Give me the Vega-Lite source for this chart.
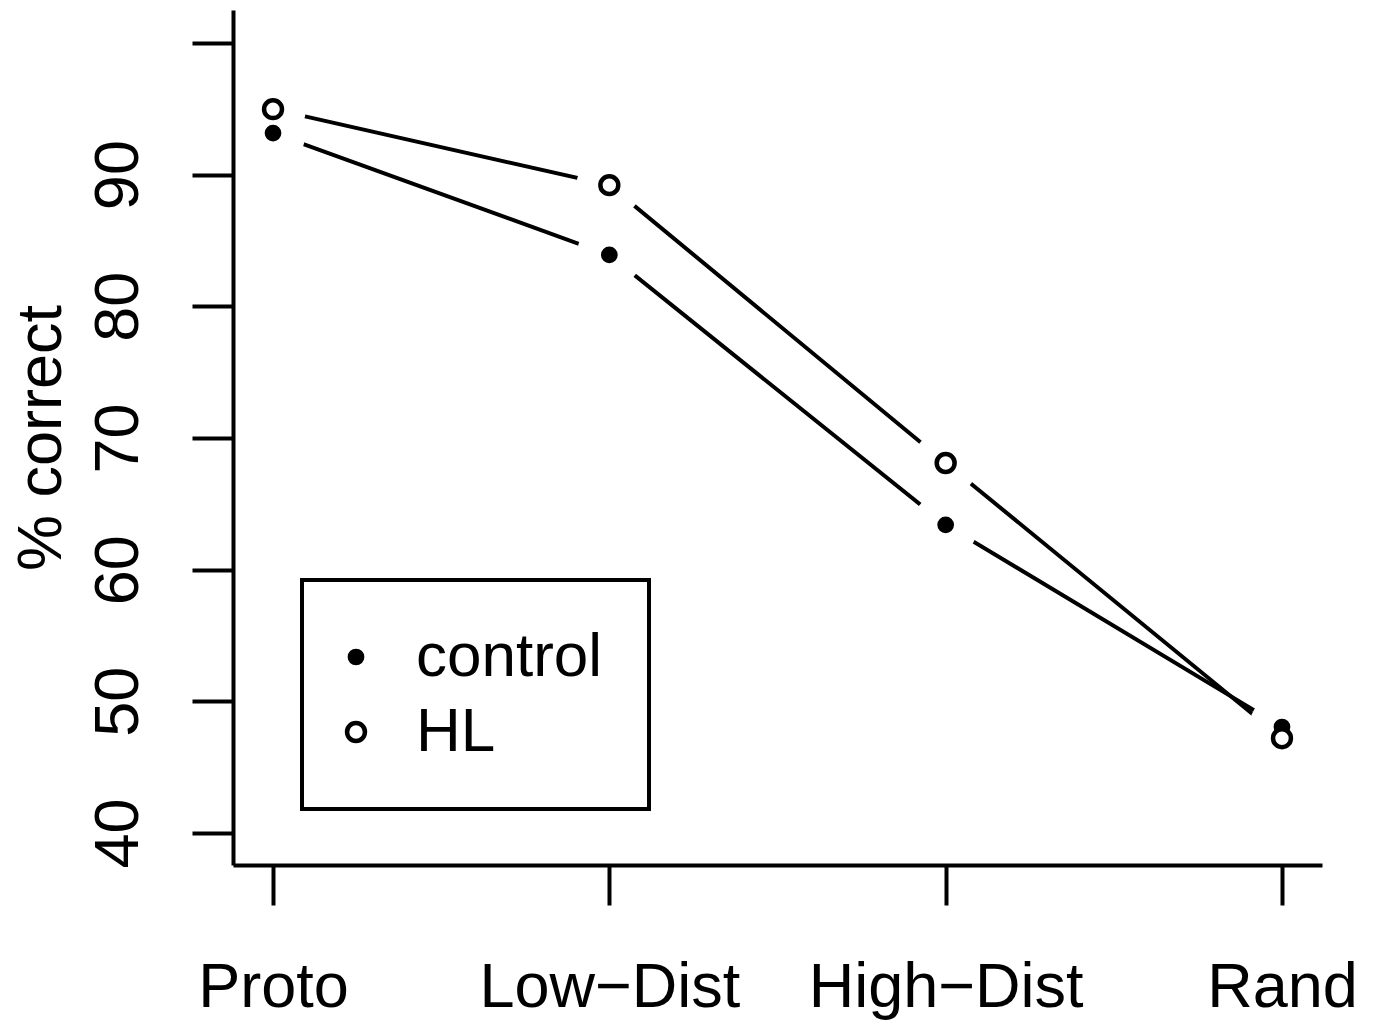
{
  "$schema": "https://vega.github.io/schema/vega-lite/v6.json",
  "width": 1089,
  "height": 855,
  "autosize": "none",
  "padding": {"left": 233, "top": 10, "right": 54, "bottom": 163},
  "background": "white",
  "config": {
    "view": {"stroke": null},
    "font": "Liberation Sans",
    "axis": {"zindex": 1},
    "legend": {
      "strokeWidth": 4,
      "title": null,
      "orient": "none",
      "legendX": 69,
      "legendY": 570,
      "direction": "vertical",
      "strokeColor": "black",
      "fillColor": "white",
      "padding": 46,
      "rowPadding": 13,
      "labelFontSize": 62,
      "labelColor": "black",
      "labelOffset": 29,
      "labelLimit": 500,
      "symbolOffset": -23,
      "symbolStrokeWidth": 4.5,
      "symbolType": "circle"
    }
  },
  "data": {
    "values": [
      {"condition": "Proto", "group": "control", "pct": 93.15},
      {"condition": "Low−Dist", "group": "control", "pct": 83.9},
      {"condition": "High−Dist", "group": "control", "pct": 63.4},
      {"condition": "Rand", "group": "control", "pct": 48.05},
      {"condition": "Proto", "group": "HL", "pct": 94.97},
      {"condition": "Low−Dist", "group": "HL", "pct": 89.2},
      {"condition": "High−Dist", "group": "HL", "pct": 68.1},
      {"condition": "Rand", "group": "HL", "pct": 47.2}
    ]
  },
  "encoding": {
    "x": {
      "field": "condition",
      "type": "ordinal",
      "sort": ["Proto", "Low−Dist", "High−Dist", "Rand"],
      "scale": {"type": "point", "padding": 0.119},
      "axis": {
        "title": null,
        "labelAngle": 0,
        "labelFontSize": 63,
        "labelColor": "black",
        "labelBaseline": "alphabetic",
        "labelPadding": 101,
        "labelLimit": 500,
        "tickSize": 40,
        "tickWidth": 4,
        "tickColor": "black",
        "domainColor": "black",
        "domainWidth": 4,
        "grid": false
      }
    },
    "y": {
      "field": "pct",
      "type": "quantitative",
      "scale": {"domain": [37.57, 102.5], "nice": false, "zero": false},
      "axis": {
        "title": "% correct",
        "titleFontSize": 63,
        "titleFontWeight": "normal",
        "titleColor": "black",
        "titleAngle": -90,
        "titleX": -173,
        "titleY": 427.5,
        "titleAlign": "center",
        "titleBaseline": "alphabetic",
        "values": [40, 50, 60, 70, 80, 90, 100],
        "labelExpr": "datum.value == 100 ? '' : datum.label",
        "labelAngle": -90,
        "labelAlign": "center",
        "labelBaseline": "alphabetic",
        "labelFontSize": 63,
        "labelColor": "black",
        "labelPadding": 55,
        "tickSize": 41,
        "tickWidth": 4,
        "tickColor": "black",
        "domainColor": "black",
        "domainWidth": 4,
        "grid": false
      }
    }
  },
  "layer": [
    {
      "mark": {"type": "line", "stroke": "black", "strokeWidth": 4},
      "encoding": {"detail": {"field": "group"}}
    },
    {
      "mark": {"type": "point", "shape": "circle", "filled": true, "fill": "white", "stroke": null, "opacity": 1, "size": 4300}
    },
    {
      "mark": {"type": "point", "shape": "circle", "filled": true, "strokeWidth": 4.5, "opacity": 1},
      "encoding": {
        "fill": {
          "field": "group",
          "type": "nominal",
          "scale": {"domain": ["control", "HL"], "range": ["black", "white"]}
        },
        "stroke": {
          "field": "group",
          "type": "nominal",
          "scale": {"domain": ["control", "HL"], "range": ["black", "black"]}
        },
        "size": {
          "field": "group",
          "type": "nominal",
          "scale": {"domain": ["control", "HL"], "range": [150, 320]}
        }
      }
    }
  ]
}
